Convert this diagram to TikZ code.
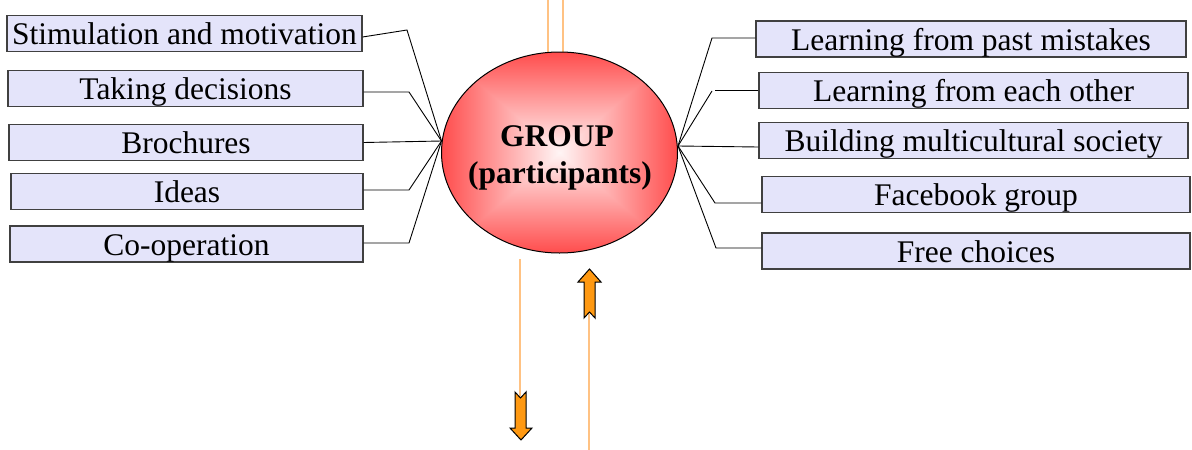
\documentclass[tikz,border=0pt]{standalone}
\usepackage{fontspec}
\setmainfont{Liberation Serif}
\usetikzlibrary{shapes.geometric}
\definecolor{boxfill}{HTML}{E4E4FA}
\definecolor{boxline}{HTML}{404040}
\definecolor{lineor}{HTML}{FFC283}
\definecolor{arrowor}{HTML}{FF9912}
\pgfdeclarefunctionalshading{rectgrad}{\pgfpoint{0bp}{0bp}}{\pgfpoint{100bp}{100bp}}{}{
  50 sub abs exch 50 sub abs 2 copy lt {exch} if pop 25 div
  dup 1 gt {pop 1} if
  0.66 mul 0.96 exch sub 1 exch dup
}
\tikzset{
  lbl/.style={draw=boxline, line width=1.2pt, fill=boxfill, inner sep=0pt,
    minimum height=36pt, text height=25.5pt, text depth=3.5pt,
    font=\fontsize{31.5}{36}\selectfont, anchor=center},
  conn/.style={draw=black, line width=0.9pt},
  orline/.style={draw=lineor, line width=1.6pt},
  gtext/.style={font=\fontsize{31.5}{37}\selectfont\bfseries, inner sep=0pt, anchor=base},
  bigarrow/.style={draw=black, line width=1pt, fill=arrowor, line join=miter}
}
\begin{document}
\begin{tikzpicture}[x=1pt,y=-1pt]
\useasboundingbox (0,0) rectangle (1192,450);
% orange lines
\coordinate (t1a) at (548,0); \coordinate (t1b) at (548,53);
\coordinate (t2a) at (563,0); \coordinate (t2b) at (563,53);
\draw[orline] (t1a) -- (t1b);
\draw[orline] (t2a) -- (t2b);
\coordinate (b1a) at (520,259); \coordinate (b1b) at (520,396);
\coordinate (b2a) at (589,314); \coordinate (b2b) at (589,450);
\draw[orline] (b1a) -- (b1b);
\draw[orline] (b2a) -- (b2b);
% ellipse
\node[ellipse, draw=black, line width=1pt, inner sep=0pt,
  minimum width=236pt, minimum height=201pt, shading=rectgrad] (G) at (559.5,152.5) {};
\node[gtext] (GT1) at (557,146) {GROUP};
\node[gtext] (GT2) at (560,183) {(participants)};
% left boxes
\node[lbl, minimum width=355pt] (L1) at (184.5,33.5) {Stimulation and motivation};
\node[lbl, minimum width=355pt] (L2) at (185.5,88.5) {Taking decisions};
\node[lbl, minimum width=354pt] (L3) at (186,142.5) {Brochures};
\node[lbl, minimum width=352pt] (L4) at (187,191.5) {Ideas};
\node[lbl, minimum width=353pt] (L5) at (186.5,244) {Co-operation};
% right boxes
\node[lbl, minimum width=430pt] (R1) at (971,39) {Learning from past mistakes};
\node[lbl, minimum width=429pt] (R2) at (973.5,90.5) {Learning from each other};
\node[lbl, minimum width=429pt] (R3) at (973.5,140.5) {Building multicultural society};
\node[lbl, minimum width=428pt] (R4) at (976,194.5) {Facebook group};
\node[lbl, minimum width=428pt] (R5) at (976,251) {Free choices};
% convergence points
\coordinate (cl) at (441.5,141);
\coordinate (cr) at (678,146);
% left connectors
\draw[conn] ([yshift=-3.5pt]L1.east) -- (407,30) -- (cl);
\draw[conn] ([yshift=-3.5pt]L2.east) -- (409,92) -- (cl);
\draw[conn] (L3.east) -- (cl);
\draw[conn] ([yshift=1.5pt]L4.east) -- (409,190) -- (cl);
\draw[conn] ([yshift=1pt]L5.east) -- (409,243) -- (cl);
% right connectors
\draw[conn] ([yshift=1pt]R1.west) -- (712,38) -- (cr);
\draw[conn] ([yshift=0.5pt]R2.west) -- (715,90);
\draw[conn] (cr) -- (712,91);
\draw[conn] ([yshift=-6.5pt]R3.west) -- (cr);
\draw[conn] ([yshift=-8.5pt]R4.west) -- (715,203) -- (cr);
\draw[conn] ([yshift=3pt]R5.west) -- (716,248) -- (cr);
% block arrows
\draw[bigarrow] (515,392) -- (520.5,398) -- (526,392) -- (526,428) -- (532,428)
  -- (521,440) -- (510,428) -- (515,428) -- cycle;
\draw[bigarrow] (584,318) -- (589.5,312) -- (595,318) -- (595,282) -- (601,282)
  -- (589.5,269) -- (578,282) -- (584,282) -- cycle;
\end{tikzpicture}
\end{document}
